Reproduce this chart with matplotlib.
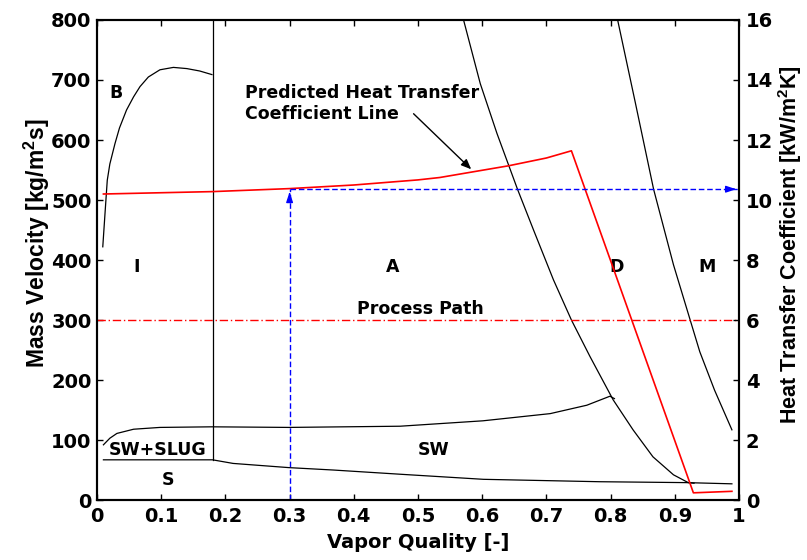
"""Flow pattern map with process path and predicted heat transfer coefficient."""

import matplotlib
matplotlib.use("Agg")
import matplotlib.pyplot as plt

plt.rcParams["font.family"] = ["DejaVu Sans"]
plt.rcParams["font.weight"] = "bold"
plt.rcParams["mathtext.fontset"] = "custom"
plt.rcParams["mathtext.rm"] = "Liberation Sans:bold"
plt.rcParams["mathtext.default"] = "rm"

# --- flow pattern boundaries (vapor quality, mass velocity kg/m2s) ---
bub_x = [0.009, 0.0125, 0.016, 0.020, 0.028, 0.035, 0.046, 0.057, 0.067, 0.080, 0.098, 0.119, 0.140, 0.160, 0.179]
bub_y = [422, 478, 533, 560, 594, 620, 650, 672, 689, 705, 717, 721, 719, 715, 709]

ia_x = [0.18, 0.18]
ia_y = [67, 800]

sw_x = [0.010, 0.020, 0.031, 0.057, 0.098, 0.179, 0.299, 0.472, 0.601, 0.706, 0.763, 0.799, 0.806]
sw_y = [92, 103, 111, 118, 121, 122, 121, 123, 132, 144, 158, 173, 169]

s_x = [0.010, 0.180, 0.212, 0.299, 0.368, 0.472, 0.602, 0.783, 0.918, 0.989]
s_y = [67, 67, 61, 54, 50, 43, 34.5, 30.5, 29, 27]

dry_x = [0.571, 0.597, 0.623, 0.655, 0.680, 0.711, 0.739, 0.768, 0.804, 0.835, 0.866, 0.898, 0.921, 0.930]
dry_y = [800, 694, 611, 518, 450, 367, 300, 239, 167, 117, 72, 42, 29, 28]

mist_x = [0.811, 0.838, 0.867, 0.898, 0.924, 0.939, 0.962, 0.989]
mist_y = [800, 665, 518, 392, 300, 247, 183, 117]

# --- process and heat transfer coefficient (kW/m2K) ---
process_g = 300
htc_x = [0.01, 0.18, 0.30, 0.40, 0.50, 0.534, 0.586, 0.641, 0.70, 0.739, 0.929, 0.989]
htc_y = [10.20, 10.28, 10.38, 10.50, 10.67, 10.75, 10.94, 11.14, 11.40, 11.64, 0.24, 0.29]
x_op = 0.30
htc_op = 10.36

regions = [
    ("B", 0.030, 678), ("I", 0.062, 388), ("A", 0.46, 388), ("D", 0.81, 388),
    ("M", 0.95, 388), ("SW+SLUG", 0.095, 83), ("S", 0.111, 33), ("SW", 0.524, 83),
]

fig = plt.figure(figsize=(8.07, 5.6), dpi=100)
ax = fig.add_axes([0.1202, 0.1071, 0.7955, 0.8572])
ax2 = ax.twinx()

for xs, ys in [(bub_x, bub_y), (ia_x, ia_y), (sw_x, sw_y), (s_x, s_y), (dry_x, dry_y), (mist_x, mist_y)]:
    ax.plot(xs, ys, color="black", lw=0.9)

ax.axhline(process_g, color="red", lw=1.0, ls=(0, (6, 2, 1, 2)))
ax.text(0.503, 318, "Process Path", ha="center", va="center", fontsize=12.5, fontweight="bold")

for label, x, y in regions:
    ax.text(x, y, label, ha="center", va="center", fontsize=12.5, fontweight="bold")

ax.text(0.2305, 661, "Predicted Heat Transfer\nCoefficient Line", ha="left", va="center",
        fontsize=12.5, fontweight="bold", linespacing=1.2)
ax.annotate("", xy=(0.586, 548), xytext=(0.49, 647),
            arrowprops=dict(arrowstyle="-|>,head_length=0.6,head_width=0.25", color="black", lw=1.0))

ax2.plot(htc_x, htc_y, color="red", lw=1.2)

# blue reading lines: from x=0.3 up to the HTC line, then across to the right axis
ax2.plot([x_op, x_op], [0, htc_op], color="blue", lw=1.0, ls=(0, (4, 2)))
ax2.plot([x_op, 1.0], [htc_op, htc_op], color="blue", lw=1.0, ls=(0, (4, 2)))
ax2.annotate("", xy=(x_op, htc_op), xytext=(x_op, htc_op - 0.3),
             arrowprops=dict(arrowstyle="-|>,head_length=0.6,head_width=0.2", color="blue", lw=1.0))
ax2.annotate("", xy=(1.0, htc_op), xytext=(0.985, htc_op),
             arrowprops=dict(arrowstyle="-|>,head_length=0.6,head_width=0.2", color="blue", lw=1.0))

ax.set_xlim(0, 1)
ax.set_ylim(0, 800)
ax2.set_ylim(0, 16)
ax.set_xticks([0, 0.1, 0.2, 0.3, 0.4, 0.5, 0.6, 0.7, 0.8, 0.9, 1])
ax.set_xticklabels(["0", "0.1", "0.2", "0.3", "0.4", "0.5", "0.6", "0.7", "0.8", "0.9", "1"])
ax.set_yticks(range(0, 801, 100))
ax2.set_yticks(range(0, 17, 2))

ax.tick_params(axis="x", direction="in", top=True, length=4, width=1, labelsize=14, pad=5)
ax.tick_params(axis="y", direction="in", right=False, length=4, width=1, labelsize=14, pad=4)
ax2.tick_params(axis="y", direction="in", length=4, width=1, labelsize=14, pad=5)
for a in (ax, ax2):
    for lab in a.get_xticklabels() + a.get_yticklabels():
        lab.set_fontweight("bold")
    for sp in a.spines.values():
        sp.set_linewidth(1.5)

ax.set_xlabel("Vapor Quality [-]", fontsize=14, fontweight="bold", labelpad=5)
ax.set_ylabel("Mass Velocity [kg/m$^2$s]", family="Liberation Sans", fontsize=16.5,
              fontweight="bold", labelpad=-1)
ax2.set_ylabel("Heat Transfer Coefficient [kW/m$^2$K]", family="Liberation Sans", fontsize=15.5,
               fontweight="bold", labelpad=2)
ax.yaxis.label.set_y(0.535)
ax2.yaxis.label.set_y(0.532)

fig.savefig("out.png", dpi=100)
